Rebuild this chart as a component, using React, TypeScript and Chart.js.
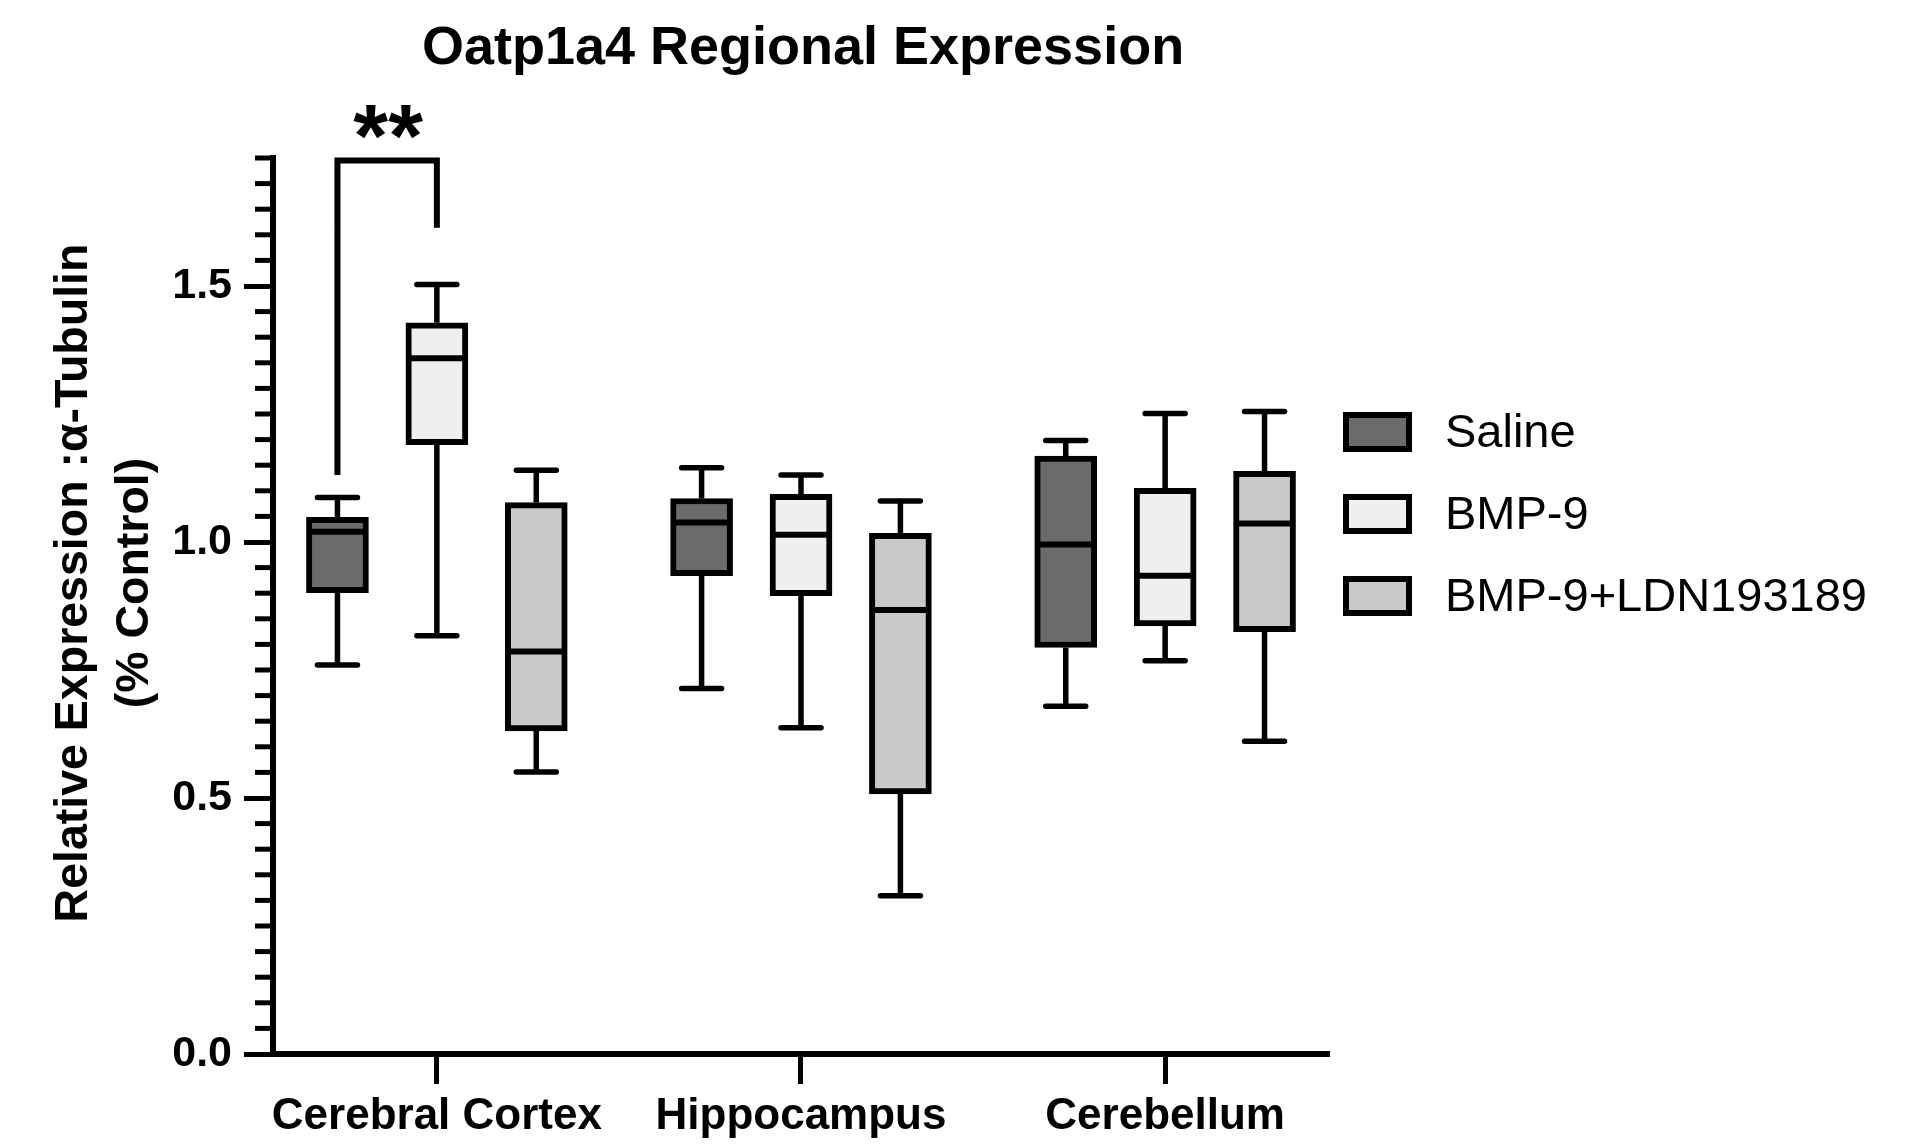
import { useEffect, useRef } from 'react';
import { Chart, registerables } from 'chart.js';

Chart.register(...registerables);

const FONT = '"Liberation Sans", Arial, Helvetica, sans-serif';

// Brain regions (x categories) and treatment groups
const regions = ['Cerebral Cortex', 'Hippocampus', 'Cerebellum'];
const groups = ['Saline', 'BMP-9', 'BMP-9+LDN193189'];
const groupFill = ['#6b6b6b', '#efefef', '#c9c9c9'];
const groupOffset = [-0.273, 0, 0.273];

// Box-and-whisker summaries, one value per region
const salineMin = [0.76, 0.714, 0.679];
const salineQ1 = [0.901, 0.934, 0.794];
const salineMedian = [1.02, 1.038, 0.995];
const salineQ3 = [1.048, 1.085, 1.168];
const salineMax = [1.087, 1.145, 1.198];

const bmpMin = [0.817, 0.637, 0.768];
const bmpQ1 = [1.19, 0.895, 0.836];
const bmpMedian = [1.359, 1.014, 0.934];
const bmpQ3 = [1.428, 1.093, 1.105];
const bmpMax = [1.503, 1.131, 1.251];

const ldnMin = [0.551, 0.309, 0.611];
const ldnQ1 = [0.631, 0.508, 0.825];
const ldnMedian = [0.786, 0.867, 1.036];
const ldnQ3 = [1.077, 1.017, 1.138];
const ldnMax = [1.14, 1.08, 1.255];

// Y axis
const yMajorTicks = [0, 0.5, 1.0, 1.5];
const yMinorStep = 0.05;
const yMax = 1.75;

// Significance bracket (Saline vs BMP-9, cerebral cortex)
const sigRegion = 0;
const sigFrom = 0;
const sigTo = 1;
const sigLeftEnd = 1.131;
const sigRightEnd = 1.614;
const sigTop = 1.745;
const sigLabel = '**';

const chartTitle = 'Oatp1a4 Regional Expression';
const yTitleLines = ['Relative Expression :\u03B1-Tubulin', '(% Control)'];

type Summary = { min: number[]; q1: number[]; median: number[]; q3: number[]; max: number[] };
const stats: Summary[] = [
  { min: salineMin, q1: salineQ1, median: salineMedian, q3: salineQ3, max: salineMax },
  { min: bmpMin, q1: bmpQ1, median: bmpMedian, q3: bmpQ3, max: bmpMax },
  { min: ldnMin, q1: ldnQ1, median: ldnMedian, q3: ldnQ3, max: ldnMax },
];

const BOX_WIDTH = 62;
const CAP_HALF = 20;
const BOX_LINE = 6;
const WHISKER_LINE = 5.5;

const boxPlotPlugin = {
  id: 'boxPlotExtras',
  beforeDatasetsDraw(chart: any) {
    const { ctx } = chart;
    const xs = chart.scales.x;
    const ys = chart.scales.y;
    ctx.save();
    ctx.strokeStyle = '#000';
    ctx.lineWidth = WHISKER_LINE;
    stats.forEach((s, g) => {
      regions.forEach((_, r) => {
        const x = xs.getPixelForValue(r + groupOffset[g]);
        const pMin = ys.getPixelForValue(s.min[r]);
        const pQ1 = ys.getPixelForValue(s.q1[r]);
        const pQ3 = ys.getPixelForValue(s.q3[r]);
        const pMax = ys.getPixelForValue(s.max[r]);
        ctx.lineCap = 'butt';
        ctx.beginPath();
        ctx.moveTo(x, pQ3);
        ctx.lineTo(x, pMax);
        ctx.moveTo(x, pQ1);
        ctx.lineTo(x, pMin);
        ctx.stroke();
        ctx.lineCap = 'round';
        ctx.beginPath();
        ctx.moveTo(x - CAP_HALF, pMax);
        ctx.lineTo(x + CAP_HALF, pMax);
        ctx.moveTo(x - CAP_HALF, pMin);
        ctx.lineTo(x + CAP_HALF, pMin);
        ctx.stroke();
      });
    });
    ctx.restore();
  },
  afterDatasetsDraw(chart: any) {
    const { ctx } = chart;
    const xs = chart.scales.x;
    const ys = chart.scales.y;
    ctx.save();
    ctx.strokeStyle = '#000';
    ctx.lineWidth = BOX_LINE;
    ctx.lineCap = 'butt';
    stats.forEach((s, g) => {
      regions.forEach((_, r) => {
        const x = xs.getPixelForValue(r + groupOffset[g]);
        const pMed = ys.getPixelForValue(s.median[r]);
        ctx.beginPath();
        ctx.moveTo(x - BOX_WIDTH / 2 + 1, pMed);
        ctx.lineTo(x + BOX_WIDTH / 2 - 1, pMed);
        ctx.stroke();
      });
    });

    // significance bracket
    const xl = xs.getPixelForValue(sigRegion + groupOffset[sigFrom]);
    const xr = xs.getPixelForValue(sigRegion + groupOffset[sigTo]);
    const yTop = ys.getPixelForValue(sigTop);
    ctx.lineWidth = 6;
    ctx.lineJoin = 'miter';
    ctx.beginPath();
    ctx.moveTo(xl, ys.getPixelForValue(sigLeftEnd));
    ctx.lineTo(xl, yTop);
    ctx.lineTo(xr, yTop);
    ctx.lineTo(xr, ys.getPixelForValue(sigRightEnd));
    ctx.stroke();

    // stars above the bracket
    ctx.fillStyle = '#000';
    ctx.font = `bold 100px ${FONT}`;
    const m = ctx.measureText(sigLabel);
    const h100 = m.actualBoundingBoxAscent + m.actualBoundingBoxDescent;
    const size = (100 * 34) / h100;
    ctx.font = `bold ${size}px ${FONT}`;
    const m2 = ctx.measureText(sigLabel);
    const starBottom = yTop - 22;
    const starTop = starBottom - 34;
    ctx.textAlign = 'center';
    ctx.textBaseline = 'alphabetic';
    ctx.fillText(sigLabel, (xl + xr) / 2 + 1, starTop + m2.actualBoundingBoxAscent);
    ctx.restore();
  },
  afterDraw(chart: any) {
    const { ctx, chartArea } = chart;
    const ys = chart.scales.y;
    ctx.save();

    // minor ticks on the y axis
    ctx.strokeStyle = '#000';
    ctx.lineWidth = 5;
    const steps = Math.round(yMax / yMinorStep);
    for (let k = 0; k <= steps; k++) {
      const v = k * yMinorStep;
      if (yMajorTicks.some((t) => Math.abs(t - v) < 1e-9)) continue;
      const py = ys.getPixelForValue(v);
      ctx.beginPath();
      ctx.moveTo(chartArea.left - 18, py);
      ctx.lineTo(chartArea.left, py);
      ctx.stroke();
    }

    // chart title
    ctx.fillStyle = '#000';
    ctx.font = `bold 54px ${FONT}`;
    ctx.textAlign = 'center';
    ctx.textBaseline = 'alphabetic';
    ctx.fillText(chartTitle, (chartArea.left + chartArea.right) / 2 + 2, 64);

    // y axis title (two rotated lines)
    ctx.font = `bold 46.5px ${FONT}`;
    const titleCenterY = 583;
    const baselines = [87, 148];
    yTitleLines.forEach((line, i) => {
      ctx.save();
      ctx.translate(baselines[i], titleCenterY);
      ctx.rotate(-Math.PI / 2);
      ctx.textAlign = 'center';
      ctx.textBaseline = 'alphabetic';
      ctx.fillText(line, 0, 0);
      ctx.restore();
    });

    // legend
    const lx = chartArea.right + 14;
    const rowCenters = [432, 514, 596];
    const bw = 69;
    const bh = 40;
    ctx.font = `47px ${FONT}`;
    ctx.textAlign = 'left';
    ctx.textBaseline = 'middle';
    groups.forEach((name, g) => {
      const cy = rowCenters[g];
      ctx.fillStyle = groupFill[g];
      ctx.fillRect(lx, cy - bh / 2, bw, bh);
      ctx.strokeStyle = '#000';
      ctx.lineWidth = 6;
      ctx.strokeRect(lx + 3, cy - bh / 2 + 3, bw - 6, bh - 6);
      ctx.fillStyle = '#000';
      ctx.fillText(name, lx + 102, cy + 2);
    });
    ctx.restore();
  },
};

export default function App() {
  const canvasRef = useRef<HTMLCanvasElement | null>(null);

  useEffect(() => {
    const canvas = canvasRef.current;
    if (!canvas) return;
    Chart.defaults.font.family = FONT;

    const datasets = groups.map((name, g) => ({
      label: name,
      data: regions.map((_, r) => ({ x: r + groupOffset[g], y: [stats[g].q1[r], stats[g].q3[r]] })),
      backgroundColor: groupFill[g],
      borderColor: '#000',
      borderWidth: BOX_LINE,
      borderSkipped: false,
      grouped: false,
      barThickness: BOX_WIDTH,
    }));

    const chart = new Chart(canvas, {
      type: 'bar',
      data: { datasets: datasets as any },
      plugins: [boxPlotPlugin],
      options: {
        animation: false,
        responsive: false,
        devicePixelRatio: 1,
        layout: { padding: { left: 0, top: 158, right: 598, bottom: 0 } },
        plugins: {
          legend: { display: false },
          tooltip: { enabled: false },
          title: { display: false },
        },
        scales: {
          x: {
            type: 'linear',
            min: -0.45,
            max: 2.45,
            offset: false,
            afterBuildTicks: (s: any) => {
              s.ticks = regions.map((_, i) => ({ value: i }));
            },
            afterFit: (s: any) => {
              s.height = 92;
            },
            grid: {
              offset: false,
              drawOnChartArea: false,
              drawTicks: true,
              tickLength: 30,
              tickWidth: 5,
              tickColor: '#000',
            },
            border: { display: true, color: '#000', width: 6 },
            ticks: {
              color: '#000',
              font: { size: 44, weight: 'bold' },
              padding: 6,
              maxRotation: 0,
              autoSkip: false,
              callback: (v: any) => regions[Math.round(Number(v))] ?? '',
            },
          },
          y: {
            type: 'linear',
            min: 0,
            max: yMax,
            afterBuildTicks: (s: any) => {
              s.ticks = yMajorTicks.map((v) => ({ value: v }));
            },
            afterFit: (s: any) => {
              s.width = 273;
            },
            grid: {
              drawOnChartArea: false,
              drawTicks: true,
              tickLength: 29,
              tickWidth: 5,
              tickColor: '#000',
            },
            border: { display: true, color: '#000', width: 6 },
            ticks: {
              color: '#000',
              font: { size: 43, weight: 'bold' },
              padding: 12,
              autoSkip: false,
              callback: (v: any) => Number(v).toFixed(1),
            },
          },
        },
      } as any,
    });

    return () => chart.destroy();
  }, []);

  return (
    <div style={{ position: 'absolute', left: 0, top: 0, width: 1927, height: 1146, background: '#fff' }}>
      <canvas ref={canvasRef} width={1927} height={1146} style={{ display: 'block' }} />
    </div>
  );
}
